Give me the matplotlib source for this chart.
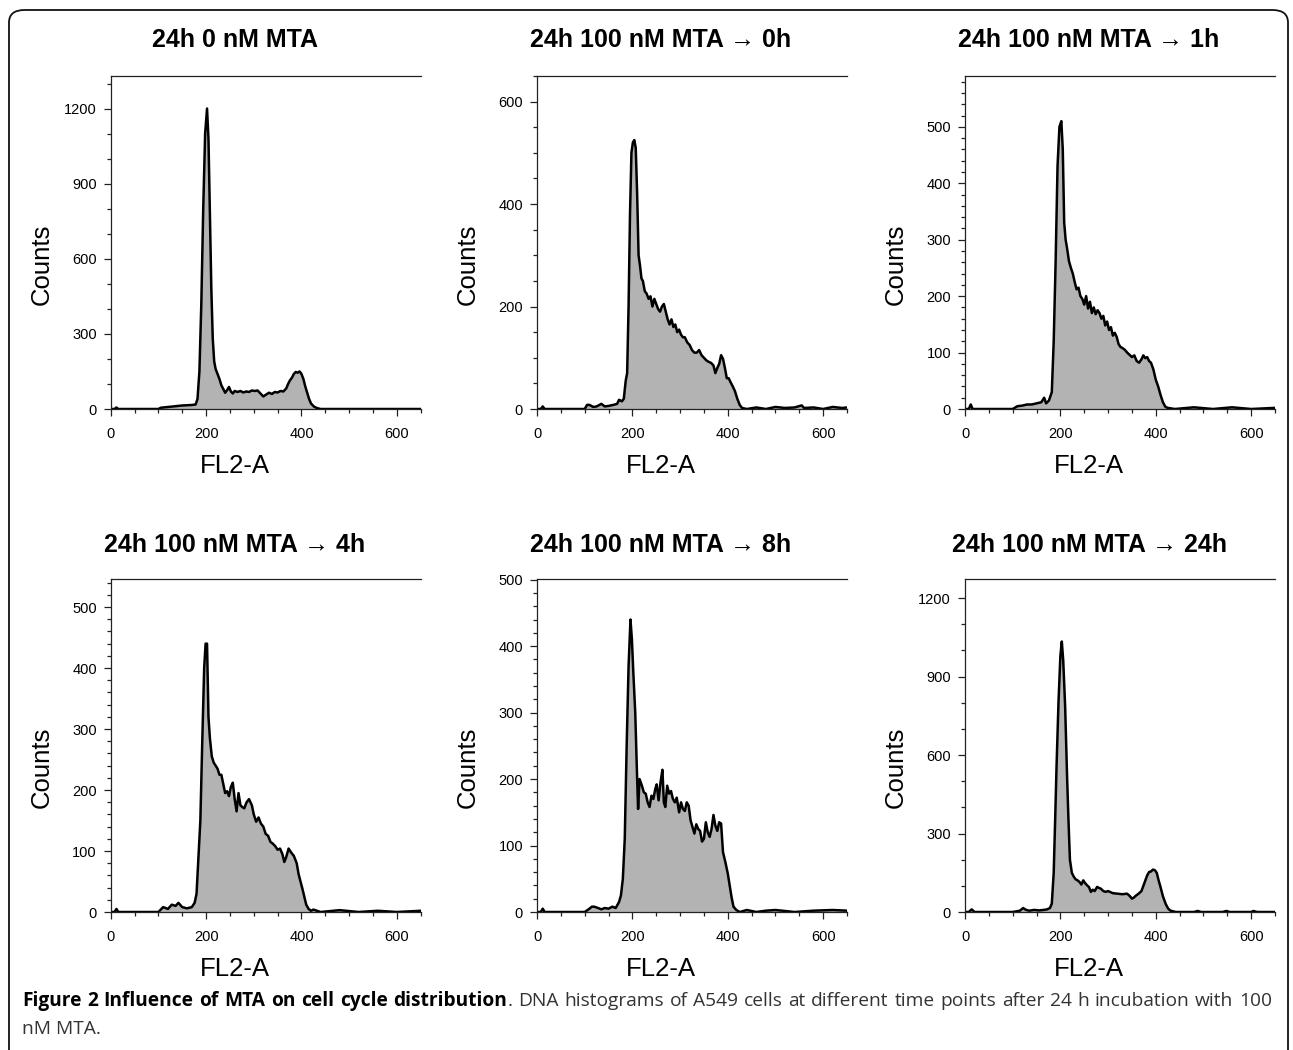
import matplotlib
matplotlib.use("Agg")
import matplotlib.pyplot as plt
import matplotlib.patches as mpatches
from matplotlib.ticker import MultipleLocator
from matplotlib import font_manager

# --- Data (FL2-A channel, counts) ---
x_0nM = [0, 8, 12, 16, 40, 80, 100, 105, 110, 120, 130, 140, 150, 160, 170, 178, 182, 186, 190, 194,
         198, 202, 205, 208, 211, 214, 217, 220, 224, 228, 232, 236, 240, 244, 248, 252, 256, 260, 266, 272,
         278, 284, 290, 296, 302, 308, 314, 320, 326, 332, 338, 344, 350, 356, 362, 368, 372, 376, 380, 384,
         388, 392, 396, 400, 404, 408, 412, 416, 420, 426, 432, 440, 500, 560, 650]
c_0nM = [0, 0, 6, 0, 0, 0, 0, 5, 6, 8, 10, 12, 14, 15, 16, 18, 40, 150, 420, 800,
         1100, 1200, 1080, 780, 480, 280, 190, 160, 140, 120, 95, 80, 65, 75, 88, 70, 62, 72, 68, 72,
         66, 70, 68, 74, 72, 74, 62, 50, 58, 65, 60, 68, 66, 72, 70, 82, 100, 115, 125, 140,
         148, 145, 150, 140, 120, 90, 65, 40, 22, 10, 4, 0, 0, 0, 0]

x_0h = [0, 8, 12, 16, 100, 105, 110, 118, 125, 135, 142, 150, 160, 168, 172, 178, 182, 186, 189, 192,
        195, 198, 201, 204, 207, 210, 213, 216, 219, 222, 226, 230, 234, 238, 242, 246, 250, 254, 258, 262,
        266, 270, 274, 278, 282, 286, 290, 294, 298, 302, 306, 310, 315, 320, 325, 330, 335, 340, 345, 350,
        355, 360, 365, 370, 374, 378, 382, 386, 390, 394, 398, 402, 406, 410, 415, 420, 425, 430, 440, 460,
        480, 500, 520, 540, 555, 560, 580, 600, 620, 640, 650]
c_0h = [0, 0, 5, 0, 0, 8, 8, 4, 5, 10, 5, 6, 8, 10, 18, 15, 20, 55, 70, 200,
        380, 500, 520, 525, 510, 420, 300, 280, 255, 250, 230, 225, 215, 220, 200, 215, 205, 195, 190, 200,
        205, 190, 175, 165, 175, 160, 165, 150, 155, 145, 140, 140, 130, 125, 115, 110, 110, 115, 105, 100,
        95, 92, 90, 85, 70, 80, 88, 105, 98, 80, 60, 60, 52, 45, 35, 20, 8, 2, 0, 3,
        0, 4, 2, 3, 7, 2, 3, 0, 4, 2, 3]

x_1h = [0, 8, 12, 16, 100, 110, 120, 130, 140, 150, 160, 166, 170, 176, 182, 186, 190, 194, 198, 202,
        205, 208, 211, 214, 218, 222, 226, 230, 234, 238, 242, 246, 250, 254, 258, 262, 266, 270, 274, 278,
        282, 286, 290, 294, 298, 302, 306, 310, 314, 318, 322, 326, 330, 335, 340, 345, 350, 355, 360, 365,
        370, 374, 378, 382, 386, 390, 395, 400, 405, 410, 415, 420, 425, 440, 480, 520, 560, 600, 650]
c_1h = [0, 0, 8, 0, 0, 5, 6, 8, 8, 10, 12, 20, 10, 15, 30, 120, 260, 430, 500, 510,
        460, 330, 300, 285, 262, 250, 240, 225, 212, 215, 200, 195, 185, 200, 178, 190, 170, 180, 168, 175,
        170, 160, 165, 148, 155, 140, 145, 130, 135, 128, 115, 110, 108, 105, 100, 96, 92, 95, 85, 82,
        88, 95, 90, 92, 85, 82, 70, 52, 40, 25, 12, 4, 2, 0, 3, 0, 3, 0, 2]

x_4h = [0, 8, 12, 16, 100, 110, 120, 128, 136, 142, 150, 160, 170, 176, 180, 184, 188, 192, 196, 199,
        202, 205, 208, 212, 216, 220, 224, 228, 232, 236, 240, 244, 248, 252, 256, 260, 264, 268, 272, 276,
        280, 285, 290, 296, 300, 305, 310, 315, 320, 325, 330, 335, 340, 345, 350, 355, 360, 364, 368, 373,
        378, 384, 390, 394, 398, 402, 406, 410, 415, 420, 425, 440, 480, 520, 560, 600, 650]
c_4h = [0, 0, 5, 0, 0, 8, 5, 12, 10, 15, 8, 6, 8, 15, 30, 90, 150, 280, 400, 440,
        440, 320, 285, 255, 245, 240, 235, 225, 225, 210, 195, 198, 190, 205, 212, 185, 165, 195, 175, 172,
        170, 180, 185, 175, 160, 148, 155, 145, 140, 128, 125, 115, 112, 108, 102, 104, 95, 82, 90, 104,
        98, 92, 80, 62, 50, 38, 25, 12, 5, 2, 4, 0, 3, 0, 2, 0, 2]

x_8h = [0, 8, 12, 16, 100, 110, 115, 120, 128, 135, 142, 150, 158, 165, 172, 176, 180, 184, 188, 192,
        196, 199, 202, 206, 210, 212, 215, 220, 224, 228, 232, 236, 240, 244, 248, 251, 255, 259, 263, 266,
        269, 273, 277, 281, 285, 289, 293, 298, 302, 306, 310, 314, 318, 322, 326, 330, 334, 338, 342, 346,
        350, 354, 358, 362, 366, 370, 374, 378, 382, 386, 390, 395, 400, 404, 408, 412, 418, 425, 440, 460,
        480, 500, 540, 580, 620, 650]
c_8h = [0, 0, 5, 0, 0, 5, 8, 8, 6, 4, 6, 5, 8, 6, 15, 25, 50, 110, 250, 370,
        440, 410, 360, 300, 200, 155, 200, 190, 180, 178, 165, 158, 175, 170, 185, 192, 168, 195, 214, 165,
        158, 190, 178, 182, 170, 165, 172, 150, 165, 155, 152, 165, 160, 138, 128, 118, 132, 125, 122, 106,
        110, 135, 120, 113, 125, 146, 130, 122, 135, 133, 90, 75, 58, 40, 22, 8, 3, 0, 3, 0,
        2, 3, 0, 2, 3, 2]

x_24h = [0, 8, 14, 20, 100, 115, 122, 128, 135, 145, 155, 165, 172, 178, 182, 186, 189, 192, 196, 200,
         203, 206, 210, 214, 217, 220, 224, 228, 232, 236, 240, 244, 248, 252, 256, 260, 264, 268, 272, 277,
         281, 285, 290, 295, 300, 310, 320, 330, 340, 346, 350, 354, 358, 364, 370, 376, 382, 386, 390, 394,
         398, 402, 406, 410, 415, 421, 426, 431, 442, 480, 488, 495, 540, 548, 555, 600, 605, 612, 650]
c_24h = [0, 0, 10, 0, 0, 5, 15, 8, 5, 8, 6, 8, 10, 15, 32, 150, 350, 560, 800, 980,
         1034, 960, 785, 520, 350, 200, 150, 135, 125, 121, 115, 105, 121, 110, 102, 95, 77, 85, 80, 96,
         92, 89, 80, 77, 80, 72, 70, 68, 70, 60, 51, 55, 62, 70, 80, 110, 140, 153, 155, 162,
         160, 150, 121, 95, 60, 30, 13, 5, 0, 0, 4, 0, 0, 4, 0, 0, 4, 0, 0]

titles = ['24h 0 nM MTA', '24h 100 nM MTA \u2192 0h', '24h 100 nM MTA \u2192 1h',
          '24h 100 nM MTA \u2192 4h', '24h 100 nM MTA \u2192 8h', '24h 100 nM MTA \u2192 24h']
xs = [x_0nM, x_0h, x_1h, x_4h, x_8h, x_24h]
cs = [c_0nM, c_0h, c_1h, c_4h, c_8h, c_24h]
ytop = [1330, 650, 590, 546, 501, 1273]
ymajor = [300, 200, 100, 100, 100, 300]
yminor = [100, 50, 20, 20, 20, 100]

W, H = 1293, 1050
fx = lambda px: px / W
fy = lambda py: 1 - py / H

plt.rcParams['font.family'] = ['Liberation Sans', 'DejaVu Sans']

fig = plt.figure(figsize=(W / 100, H / 100), dpi=100)

# rounded frame (bottom edge runs off the figure)
frame = mpatches.FancyBboxPatch((fx(9), fy(1080)), fx(1288) - fx(9), fy(10) - fy(1080),
                                boxstyle="round,pad=0,rounding_size=0.012",
                                transform=fig.transFigure, fill=False,
                                edgecolor='#111111', linewidth=1.3)
fig.patches.append(frame)

col_left = [110.7, 537, 965]
row_bottom = [409, 912]

for i in range(6):
    r, c = divmod(i, 3)
    left = col_left[c]
    bottom = row_bottom[r]
    ax = fig.add_axes([fx(left), fy(bottom), 310 / W, 333 / H])

    ax.fill_between(xs[i], cs[i], 0, color='#b3b3b3', linewidth=0)
    ax.plot(xs[i], cs[i], color='black', linewidth=1.8, solid_joinstyle='round')

    ax.set_xlim(0, 650)
    ax.set_ylim(0, ytop[i])
    ax.xaxis.set_major_locator(MultipleLocator(200))
    ax.xaxis.set_minor_locator(MultipleLocator(50))
    ax.yaxis.set_major_locator(MultipleLocator(ymajor[i]))
    ax.yaxis.set_minor_locator(MultipleLocator(yminor[i]))

    ax.spines['right'].set_visible(False)
    for s in ['left', 'top', 'bottom']:
        ax.spines[s].set_linewidth(0.9)
        ax.spines[s].set_color('#222222')
    ax.tick_params(which='both', direction='out', top=False, right=False, color='#222222', width=0.9)
    ax.tick_params(which='major', length=5, labelsize=10.5)
    ax.tick_params(which='minor', length=3)
    ax.tick_params(axis='x', pad=8)
    ax.tick_params(axis='y', pad=5)

    fig.text(fx(left + 124), fy(40 + r * 505), titles[i], ha='center', va='center',
             fontsize=18, fontweight='bold')
    fig.text(fx(left + 124), fy(bottom + 57), 'FL2-A', ha='center', va='center', fontsize=18.5)
    fig.text(fx(left - 69), fy(bottom - 145), 'Counts', ha='center', va='center',
             rotation=90, fontsize=18.5)

# --- caption, first line justified between the margins ---
bold_words = ['Figure', '2', 'Influence', 'of', 'MTA', 'on', 'cell', 'cycle']
rest_words = ['DNA', 'histograms', 'of', 'A549', 'cells', 'at', 'different', 'time', 'points',
              'after', '24', 'h', 'incubation', 'with', '100']
line1 = [[(w, True)] for w in bold_words] + [[('distribution', True), ('.', False)]] + \
        [[(w, False)] for w in rest_words]

names = {f.name for f in font_manager.fontManager.ttflist}
cap_font = 'Liberation Sans Narrow' if 'Liberation Sans Narrow' in names else 'Open Sans'
x_start, x_end = 22, 1272

fig.canvas.draw()
rend = fig.canvas.get_renderer()


def seg_width(txt, bold, size):
    t = fig.text(0, 0, txt, fontsize=size, family=cap_font,
                 fontweight='bold' if bold else 'normal')
    w = t.get_window_extent(rend).width
    t.remove()
    return w


# pick the size at which the line fits naturally, then spread the gaps
ref_size = 10
natural = sum(seg_width(s, b, ref_size) for word in line1 for s, b in word) + \
    (len(line1) - 1) * seg_width('a a', False, ref_size) - (len(line1) - 1) * seg_width('aa', False, ref_size)
cap_size = ref_size * (x_end - x_start) / natural * 0.99

word_w = [[seg_width(s, b, cap_size) for s, b in word] for word in line1]
total = sum(sum(ws) for ws in word_w)
gap = (x_end - x_start - total) / (len(line1) - 1)
xpos = x_start
for word, ws in zip(line1, word_w):
    for (s, b), w in zip(word, ws):
        fig.text(fx(xpos), fy(1006), s, fontsize=cap_size, family=cap_font,
                 fontweight='bold' if b else 'normal',
                 color='black' if b else '#333333', va='baseline', ha='left')
        xpos += w
    xpos += gap

fig.text(fx(x_start), fy(1034), 'nM MTA.', fontsize=cap_size, family=cap_font,
         color='#333333', va='baseline', ha='left')

fig.savefig('out.png', dpi=100)
